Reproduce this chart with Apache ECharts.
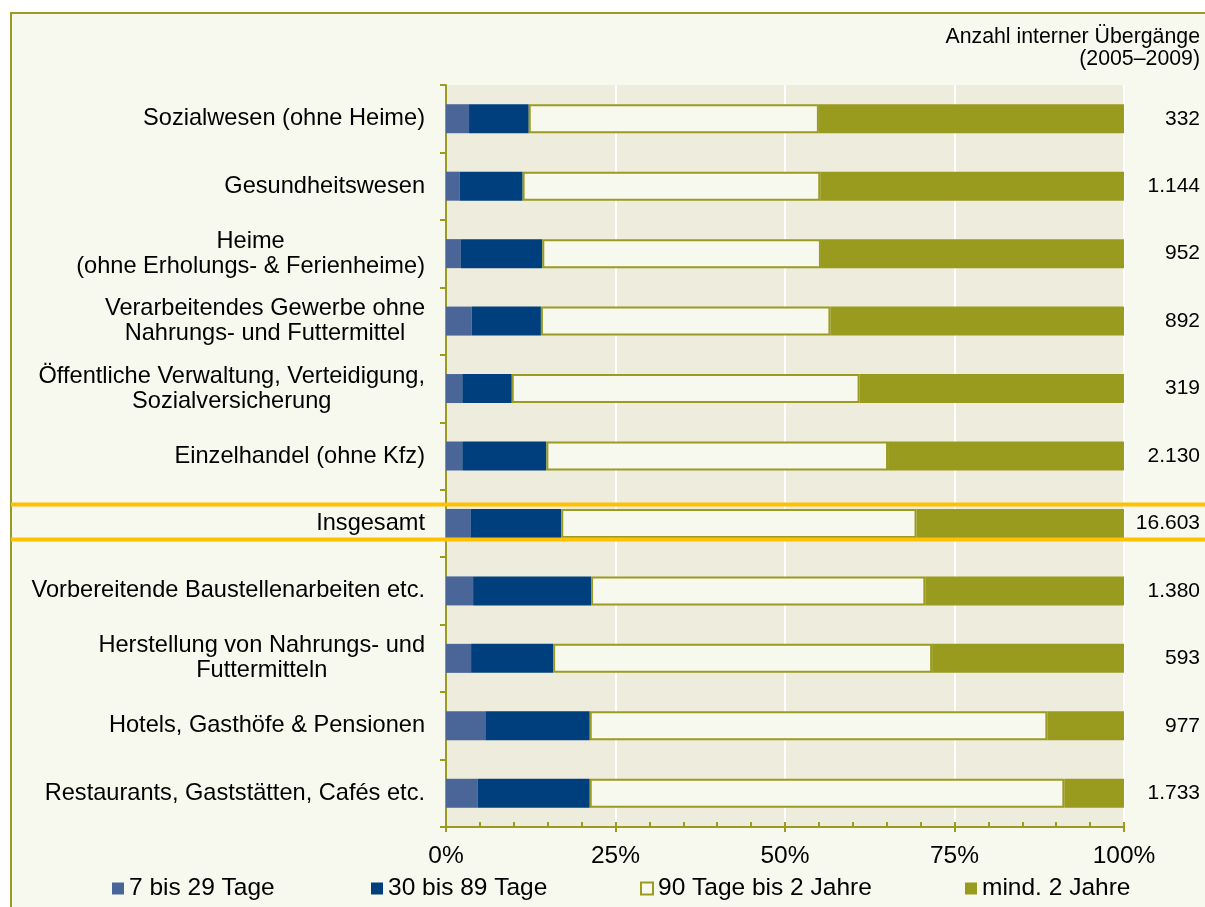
<!DOCTYPE html>
<html>
<head>
<meta charset="utf-8">
<script src="https://cdn.jsdelivr.net/npm/echarts@6/dist/echarts.min.js"></script>
<style>
  html, body { margin: 0; padding: 0; background: #ffffff; }
  #frame { position: absolute; left: 10px; top: 12px; width: 1195px; height: 895px;
           background: #F8F9EE; border-left: 2px solid #9A9B20; border-top: 2px solid #9A9B20; box-sizing: border-box; }
  #chart { position: absolute; left: 0; top: 0; width: 1205px; height: 907px; }
</style>
</head>
<body>
<div id="frame"></div>
<div id="chart"></div>
<script>
// ---- Data ----
const categories = [
  'Sozialwesen (ohne Heime)',
  'Gesundheitswesen',
  'Heime\n(ohne Erholungs- & Ferienheime)',
  'Verarbeitendes Gewerbe ohne\nNahrungs- und Futtermittel',
  'Öffentliche Verwaltung, Verteidigung,\nSozialversicherung',
  'Einzelhandel (ohne Kfz)',
  'Insgesamt',
  'Vorbereitende Baustellenarbeiten etc.',
  'Herstellung von Nahrungs- und\nFuttermitteln',
  'Hotels, Gasthöfe & Pensionen',
  'Restaurants, Gaststätten, Cafés etc.'
];
const counts = [332, 1144, 952, 892, 319, 2130, 16603, 1380, 593, 977, 1733];
const seriesNames = ['7 bis 29 Tage', '30 bis 89 Tage', '90 Tage bis 2 Jahre', 'mind. 2 Jahre'];
const tage7bis29   = [3.4, 2.0, 2.2, 3.8, 2.4, 2.4, 3.6, 4.0, 3.7, 5.8, 4.7];
const tage30bis89  = [8.8, 9.3, 12.0, 10.2, 7.3, 12.4, 13.4, 17.4, 12.1, 15.4, 16.5];
const tage90bis2J  = [42.8, 43.9, 41.1, 42.7, 51.3, 50.4, 52.4, 49.3, 55.9, 67.5, 70.0];
const mind2Jahre   = [45.0, 44.8, 44.7, 43.3, 39.0, 34.8, 30.6, 29.3, 28.3, 11.3, 8.8];
const xTicks = [0, 25, 50, 75, 100];
const headerText = 'Anzahl interner Übergänge\n(2005–2009)';
const highlightIndex = 6;

// ---- Style ----
const FONT = 'Liberation Sans, Arial, sans-serif';
const OLIVE = '#9A9B20';
const fmtCount = v => String(v).replace(/\B(?=(\d{3})+(?!\d))/g, '.');
const legendLefts = [107, 366, 635, 960];

const chart = echarts.init(document.getElementById('chart'), null, { renderer: 'canvas' });

const barBase = { type: 'bar', stack: 'total', barWidth: 29, yAxisIndex: 0, xAxisIndex: 0 };

const option = {
  backgroundColor: 'transparent',
  animation: false,
  textStyle: { fontFamily: FONT },
  title: {
    text: headerText,
    left: 'right',
    top: 21,
    textStyle: { fontFamily: FONT, fontSize: 21.3, fontWeight: 'normal', color: '#000', lineHeight: 22 }
  },
  legend: seriesNames.map((n, i) => ({
    data: [n],
    left: legendLefts[i],
    top: 871,
    icon: 'rect',
    itemWidth: 12,
    itemHeight: 12,
    itemGap: 0,
    textStyle: { fontFamily: FONT, fontSize: 24.5, color: '#000' }
  })),
  grid: {
    left: 446, right: 81, top: 85, bottom: 80,
    show: true, backgroundColor: '#EEECDC', borderWidth: 0
  },
  xAxis: [{
    type: 'value', min: xTicks[0], max: xTicks[xTicks.length - 1], interval: 25,
    axisLine: { show: true, lineStyle: { color: OLIVE, width: 2 } },
    axisTick: { show: true, inside: true, length: 5, lineStyle: { color: OLIVE, width: 2 } },
    minorTick: { show: true, splitNumber: 5, length: 5, lineStyle: { color: OLIVE, width: 2 } },
    splitLine: { show: true, lineStyle: { color: '#FFFFFF', width: 2 } },
    axisLabel: { formatter: '{value}%', fontFamily: FONT, fontSize: 24.5, color: '#000', margin: 17 }
  }, {
    type: 'value', min: xTicks[0], max: xTicks[xTicks.length - 1], interval: 25, position: 'bottom',
    axisLine: { show: false },
    axisTick: { show: true, inside: false, length: 5, lineStyle: { color: OLIVE, width: 2 } },
    splitLine: { show: false },
    axisLabel: { show: false }
  }],
  yAxis: [{
    type: 'category', inverse: true, data: categories,
    axisLine: { show: true, lineStyle: { color: OLIVE, width: 2 } },
    axisTick: { show: true, length: 6, lineStyle: { color: OLIVE, width: 2 } },
    splitLine: { show: false },
    axisLabel: {
      interval: 0, margin: 21, color: '#000', fontFamily: FONT, fontSize: 23.6, lineHeight: 25,
      formatter: v => v.split('\n').map(s => '{c|' + s + '}').join('\n'),
      rich: { c: { align: 'center', fontFamily: FONT, fontSize: 23.6, lineHeight: 25, color: '#000' } }
    }
  }, {
    type: 'category', inverse: true, position: 'right', data: counts.map(fmtCount),
    axisLine: { show: false }, axisTick: { show: false }, splitLine: { show: false },
    axisLabel: { interval: 0, align: 'right', margin: 76, color: '#000', fontFamily: FONT, fontSize: 21 }
  }],
  series: [
    Object.assign({}, barBase, { name: seriesNames[0], data: tage7bis29, itemStyle: { color: '#4A6699' } }),
    Object.assign({}, barBase, { name: seriesNames[1], data: tage30bis89, itemStyle: { color: '#003F7D' } }),
    Object.assign({}, barBase, { name: seriesNames[2], data: tage90bis2J, itemStyle: { color: '#F8F9EE', borderColor: OLIVE, borderWidth: 2 } }),
    Object.assign({}, barBase, { name: seriesNames[3], data: mind2Jahre, itemStyle: { color: '#999B1F' } })
  ]
};
chart.setOption(option);

// Highlight lines around the "Insgesamt" row, positioned from the axis scale
const yc = chart.convertToPixel({ yAxisIndex: 0 }, highlightIndex);
chart.setOption({
  graphic: [
    { type: 'line', shape: { x1: 11, y1: yc - 19, x2: 1205, y2: yc - 19 }, style: { stroke: '#FFC000', lineWidth: 4 }, z: 100 },
    { type: 'line', shape: { x1: 11, y1: yc + 16, x2: 1205, y2: yc + 16 }, style: { stroke: '#FFC000', lineWidth: 4 }, z: 100 }
  ]
});
</script>
</body>
</html>
